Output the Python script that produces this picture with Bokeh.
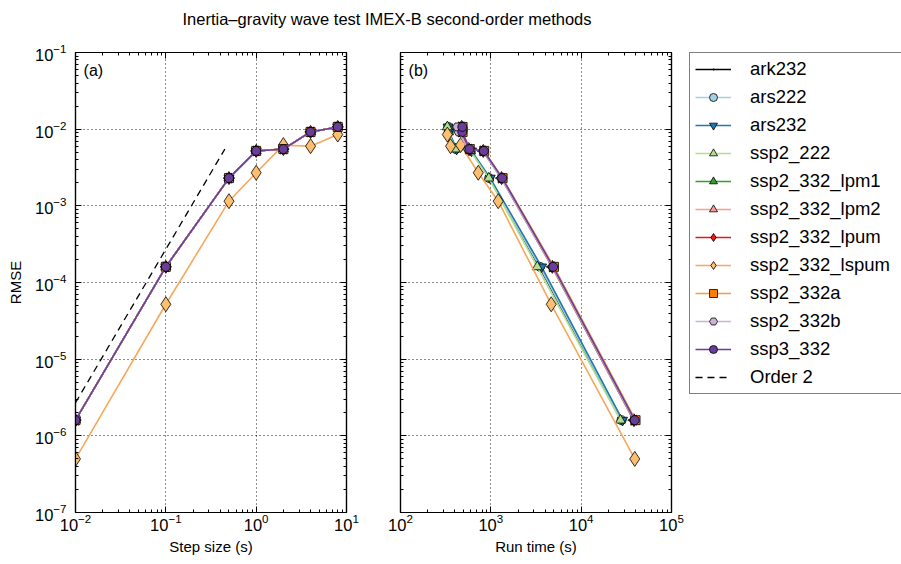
import math
from bokeh.plotting import figure
from bokeh.models import (ColumnDataSource, Range1d, LogAxis, FixedTicker,
                          Legend, LegendItem, Label, CustomJSTickFormatter)
from bokeh.layouts import column, row
from bokeh.embed import file_html
from bokeh.resources import INLINE
from bokeh.core.properties import value

FONT = "Liberation Sans"

title_text = "Inertia\u2013gravity wave test IMEX-B second-order methods"
xlabel_a = "Step size (s)"
xlabel_b = "Run time (s)"
ylabel = "RMSE"

# data
step_size = [0.01, 0.1, 0.5, 1, 2, 4, 8]
rmse_common = [1.6e-6, 1.6e-4, 2.3e-3, 5.2e-3, 5.5e-3, 9.2e-3, 1.07e-2]
rmse_lspum = [5.0e-7, 5.2e-5, 1.15e-3, 2.7e-3, 6.2e-3, 6.0e-3, 8.5e-3]
order2_dt = [0.01, 0.45]
order2_rmse = [2.7e-6, 5.5e-3]

time_ark232 = [27800, 3450, 965, 605, 412, 343, 336]
time_ars222 = [28000, 3500, 960, 600, 410, 342, 338]
time_ars232 = [28700, 3650, 985, 612, 418, 346, 336]
time_ssp2_222 = [27200, 3260, 950, 596, 406, 340, 330]
time_lpm1 = [38000, 4750, 1300, 815, 565, 470, 470]
time_lpm2 = [38200, 4780, 1310, 820, 568, 472, 472]
time_lpum = [38400, 4800, 1315, 825, 570, 475, 475]
time_lspum = [39200, 4660, 1207, 726, 463, 358, 330]
time_ssp2_332a = [40000, 5000, 1350, 845, 585, 487, 487]
time_ssp2_332b = [38500, 4800, 1300, 820, 560, 440, 425]
time_ssp3_332 = [39200, 4900, 1337, 837, 581, 483, 483]

methods = ["ark232", "ars222", "ars232", "ssp2_222", "ssp2_332_lpm1",
           "ssp2_332_lpm2", "ssp2_332_lpum", "ssp2_332_lspum", "ssp2_332a",
           "ssp2_332b", "ssp3_332"]
times = [time_ark232, time_ars222, time_ars232, time_ssp2_222, time_lpm1,
         time_lpm2, time_lpum, time_lspum, time_ssp2_332a, time_ssp2_332b,
         time_ssp3_332]
rmses = [rmse_common, rmse_common, rmse_common, rmse_common, rmse_common,
         rmse_common, rmse_common, rmse_lspum, rmse_common, rmse_common,
         rmse_common]

# styles: (marker, angle, fill, line, size)
styles = [
    ("dot", 0, "black", "black", 18),
    ("circle", 0, "#a6cee3", "#a6cee3", 9),
    ("inverted_triangle", 0, "#1f78b4", "#1f78b4", 10),
    ("triangle", 0, "#b2df8a", "#b2df8a", 10),
    ("triangle", math.pi / 2, "#33a02c", "#33a02c", 10),
    ("triangle", -math.pi / 2, "#fb9a99", "#fb9a99", 10),
    ("diamond", 0, "#e31a1c", "#e31a1c", 13),
    ("diamond", 0, "#fdbf6f", "#f7a75a", 15),
    ("square", 0, "#ff7f00", "#f79a45", 9),
    ("hex", 0, "#cab2d6", "#cab2d6", 9),
    ("circle", 0, "#6a3d9a", "#6a3d9a", 9),
]


def decade_ticks(lo, hi):
    major = [10.0 ** e for e in range(lo, hi + 1)]
    minor = [k * 10.0 ** e for e in range(lo, hi) for k in range(2, 10)]
    return FixedTicker(ticks=major, minor_ticks=minor)


def style_axis(ax, show_labels=True):
    ax.axis_line_color = "black"
    ax.axis_line_width = 1.2
    ax.major_tick_in = 6
    ax.major_tick_out = 0
    ax.minor_tick_in = 3
    ax.minor_tick_out = 0
    ax.major_tick_line_color = "black"
    ax.minor_tick_line_color = "black"
    ax.major_label_text_font = FONT
    ax.major_label_text_color = "black"
    ax.major_label_text_font_size = "16.5px"
    ax.axis_label_text_font = FONT
    ax.axis_label_text_font_style = "normal"
    ax.axis_label_text_font_size = "15px"
    ax.axis_label_text_color = "black"
    if not show_labels:
        ax.formatter = CustomJSTickFormatter(code="return ''")
        ax.major_label_text_font_size = "1px"
        ax.major_label_standoff = 0


FIG_H = 526


def make_panel(xr, xdec, left_border, right_border, show_ylabels):
    p = figure(width=left_border + 271 + right_border, height=FIG_H,
               x_axis_type="log", y_axis_type="log",
               x_range=Range1d(*xr), y_range=Range1d(1e-7, 1e-1),
               min_border_left=left_border, min_border_right=right_border,
               min_border_top=14, min_border_bottom=FIG_H - 14 - 460,
               toolbar_location=None, output_backend="svg")
    p.outline_line_color = "black"
    p.outline_line_width = 1.2
    p.background_fill_color = "white"
    p.border_fill_color = "white"
    p.xaxis.ticker = decade_ticks(*xdec)
    p.yaxis.ticker = decade_ticks(-7, -1)
    style_axis(p.xaxis[0])
    style_axis(p.yaxis[0], show_ylabels)
    p.xaxis[0].major_label_standoff = 1
    p.xaxis[0].axis_label_standoff = 4
    if show_ylabels:
        p.yaxis[0].major_label_standoff = 9
        p.yaxis[0].axis_label_standoff = 8
    for g in (p.xgrid[0], p.ygrid[0]):
        g.grid_line_color = "black"
        g.grid_line_dash = "1 3"
        g.grid_line_width = 1
        g.grid_line_alpha = 0.9
    top = LogAxis(ticker=decade_ticks(*xdec))
    style_axis(top, False)
    p.add_layout(top, "above")
    right = LogAxis(ticker=decade_ticks(-7, -1))
    style_axis(right, False)
    p.add_layout(right, "right")
    return p


pa = make_panel((0.01, 10), (-2, 1), 75, 27, True)
pa.below[0].axis_label = xlabel_a
pa.left[0].axis_label = ylabel
pb = make_panel((100, 1e5), (2, 5), 27, 18, False)
pb.below[0].axis_label = xlabel_b

# legend panel: its own canvas; ranges chosen so its sample renderers stay off-canvas
pl = figure(width=212, height=FIG_H, x_range=Range1d(0, 1), y_range=Range1d(10, 20),
            min_border=0, min_border_top=13, toolbar_location=None,
            output_backend="svg", x_axis_location=None, y_axis_location=None)
pl.outline_line_color = None
pl.grid.visible = False

items = []
for name, tt, rr, (mk, ang, fc, lc, sz) in zip(methods, times, rmses, styles):
    src_a = ColumnDataSource(dict(x=step_size, y=rr))
    src_b = ColumnDataSource(dict(x=tt, y=rr))
    for p, src in ((pa, src_a), (pb, src_b)):
        p.line("x", "y", source=src, line_color=lc, line_width=1.6)
        p.scatter("x", "y", source=src, marker=mk, angle=ang, size=sz,
                  fill_color=fc, line_color="black", line_width=0.8)
    lr = pl.line("x", "y", source=src_b, line_color=lc, line_width=1.6)
    sr = pl.scatter("x", "y", source=src_b, marker=mk, angle=ang, size=sz,
                    fill_color=fc, line_color="black", line_width=0.8)
    items.append(LegendItem(label=name, renderers=[lr, sr]))

src_o2 = ColumnDataSource(dict(x=order2_dt, y=order2_rmse))
pa.line("x", "y", source=src_o2, line_color="black", line_width=1.3,
        line_dash="7 5")
o2 = pl.line("x", "y", source=src_o2, line_color="black", line_width=1.3,
             line_dash="7 5")
items.append(LegendItem(label="Order 2", renderers=[o2]))

for p, txt, xx in ((pa, "(a)", 0.0123), (pb, "(b)", 123.0)):
    p.add_layout(Label(x=xx, y=0.0585, text=txt, text_font=FONT,
                       text_font_size="16px", text_baseline="middle",
                       text_color="black"))

legend = Legend(items=items, location="top_left", orientation="vertical",
                label_text_font=FONT, label_text_font_size="18.5px",
                label_text_color="black", label_standoff=19,
                glyph_width=36, glyph_height=20, label_height=20,
                label_width=200, spacing=6, padding=5,
                border_line_color="black", border_line_width=1.3,
                background_fill_color="white", background_fill_alpha=1.0,
                margin=0)
pl.add_layout(legend, "center")

pt = figure(width=901, height=38, x_range=Range1d(0, 901), y_range=Range1d(0, 38),
            min_border=0, toolbar_location=None, output_backend="svg",
            x_axis_location=None, y_axis_location=None)
pt.outline_line_color = None
pt.grid.visible = False
pt.text(x=[386.5], y=[19.5], text=[title_text], text_font=value(FONT),
        text_font_size="16.5px", text_align="center",
        text_baseline="alphabetic", text_color="black")

layout = column(pt, row(pa, pb, pl, spacing=0), spacing=0)
open("out.html", "w").write(file_html(layout, INLINE))
